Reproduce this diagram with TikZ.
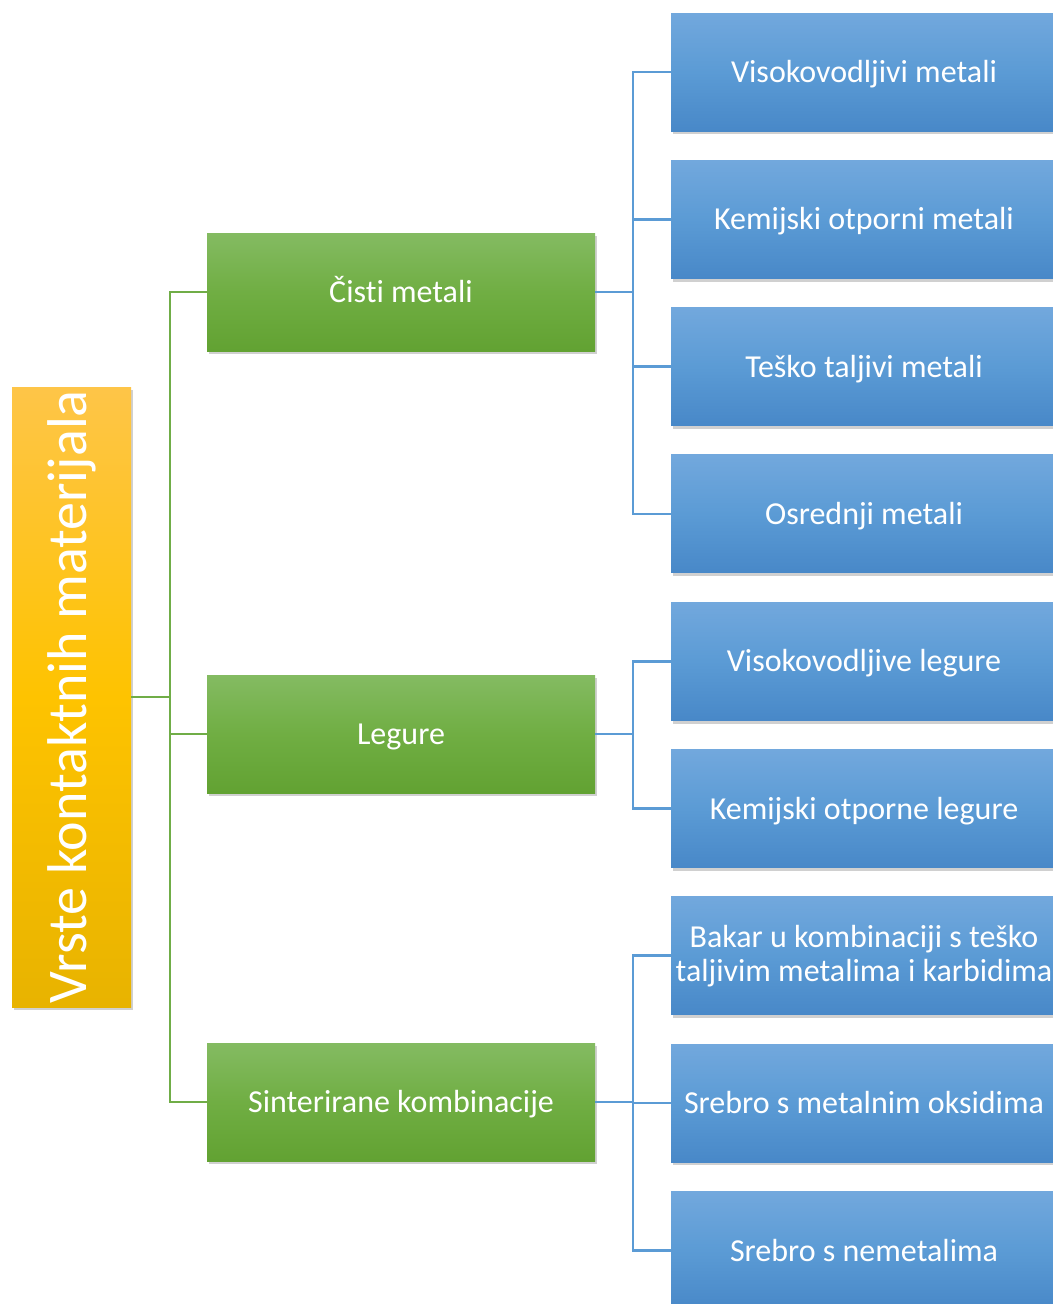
\documentclass[tikz,border=0pt]{standalone}
\usepackage{fontspec}
\setmainfont{Carlito}[Ligatures=NoCommon]
\usetikzlibrary{shadows}
\definecolor{bluetop}{HTML}{72A8DD}
\definecolor{bluemid}{HTML}{5B9BD5}
\definecolor{bluebot}{HTML}{4888C8}
\definecolor{greentop}{HTML}{84BB62}
\definecolor{greenmid}{HTML}{70AE43}
\definecolor{greenbot}{HTML}{62A232}
\definecolor{orangetop}{HTML}{FEC548}
\definecolor{orangemid}{HTML}{FEC300}
\definecolor{orangebot}{HTML}{E8B300}
\definecolor{greenline}{HTML}{70AD47}
\definecolor{blueline}{HTML}{5B9BD5}
\tikzset{
  x=0.75pt, y=-0.75pt,
  shd/.style={drop shadow={opacity=0.3, shadow xshift=1.5pt, shadow yshift=-2.5pt, fill=black!60}},
  oneline/.style={text height=19.5pt, text depth=3.5pt},
  leafbox/.style={rectangle, minimum width=289.5pt, minimum height=88.5pt, inner sep=0pt,
    top color=bluetop, bottom color=bluebot, middle color=bluemid, shd,
    text=white, font=\fontsize{24pt}{25.5pt}\selectfont, align=center},
  midbox/.style={rectangle, minimum width=291pt, minimum height=88.5pt, inner sep=0pt,
    top color=greentop, bottom color=greenbot, middle color=greenmid, shd, oneline,
    text=white, font=\fontsize{24pt}{25.5pt}\selectfont, align=center},
  rootbox/.style={rectangle, minimum width=465pt, minimum height=89.25pt, inner sep=0pt,
    top color=orangetop, bottom color=orangebot, middle color=orangemid, shd,
    text=white, font=\fontsize{42pt}{44pt}\selectfont, rotate=90},
  gline/.style={draw=greenline, line width=2pt},
  bline/.style={draw=blueline, line width=2pt},
}
\begin{document}
\begin{tikzpicture}
\fill[white] (0,0) rectangle (1053,1304);
\useasboundingbox (0,0) rectangle (1053,1304);
\clip (0,0) rectangle (1053,1304);

% root
\node[rootbox] (root) at (71.5,697) {Vrste kontaktnih materijala};

% middle level
\node[midbox] (cm) at (401,292) {Čisti metali};
\node[midbox] (lg) at (401,734) {Legure};
\node[midbox] (sk) at (401,1102) {Sinterirane kombinacije};

% leaves
\node[leafbox, oneline] (l1) at (864,72) {Visokovodljivi metali};
\node[leafbox, oneline] (l2) at (864,219.3) {Kemijski otporni metali};
\node[leafbox, oneline] (l3) at (864,366.6) {Teško taljivi metali};
\node[leafbox, oneline] (l4) at (864,513.9) {Osrednji metali};
\node[leafbox, oneline] (l5) at (864,661.2) {Visokovodljive legure};
\node[leafbox, oneline] (l6) at (864,808.5) {Kemijski otporne legure};
\node[leafbox] (l7) at (864,955.8) {Bakar u kombinaciji s teško\\taljivim metalima i karbidima};
\node[leafbox, oneline] (l8) at (864,1103.1) {Srebro s metalnim oksidima};
\node[leafbox, oneline] (l9) at (864,1250.4) {Srebro s nemetalima};

% connectors root -> middle
\coordinate (gx) at (170,697);
\draw[gline] (root.south) -- (gx);
\draw[gline] (gx) |- (cm.west);
\draw[gline] (gx) |- (lg.west);
\draw[gline] (gx) |- (sk.west);

% connectors middle -> leaves
\coordinate (b1) at (633,292);
\coordinate (b2) at (633,734);
\coordinate (b3) at (633,1102);
\draw[bline] (cm.east) -- (b1);
\foreach \l in {l1,l2,l3,l4} \draw[bline] (b1) |- (\l.west);
\draw[bline] (lg.east) -- (b2);
\foreach \l in {l5,l6} \draw[bline] (b2) |- (\l.west);
\draw[bline] (sk.east) -- (b3);
\foreach \l in {l7,l8,l9} \draw[bline] (b3) |- (\l.west);
\end{tikzpicture}
\end{document}
